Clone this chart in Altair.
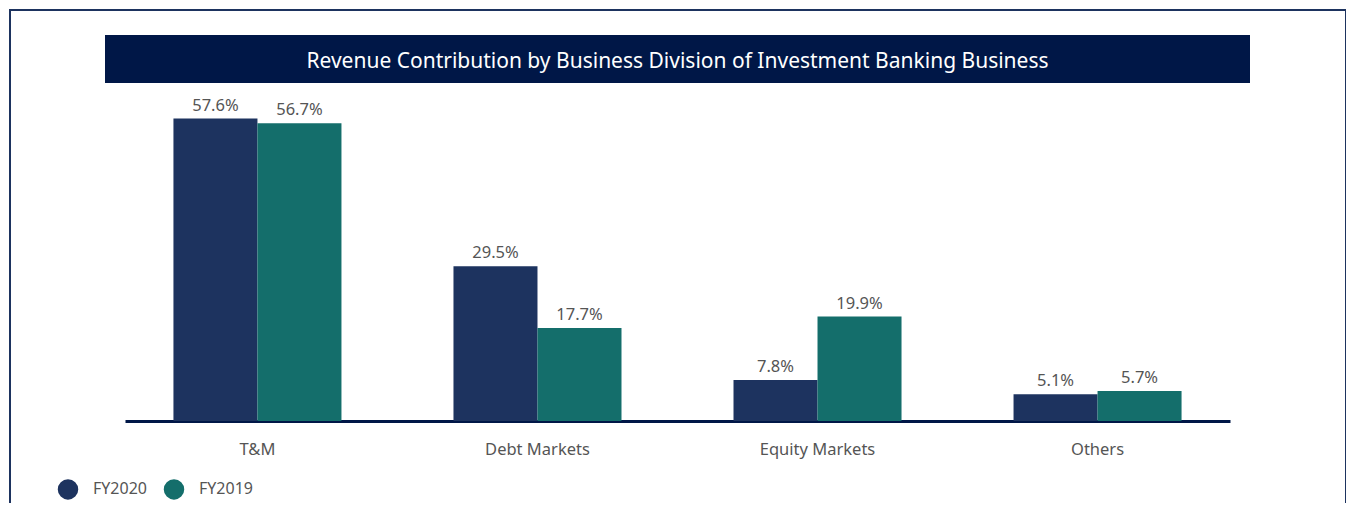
import altair as alt
import pandas as pd

title_text = "Revenue Contribution by Business Division of Investment Banking Business"
categories = ["T&M", "Debt Markets", "Equity Markets", "Others"]
series = ["FY2020", "FY2019"]
fy2020 = [57.6, 29.5, 7.8, 5.1]
fy2019 = [56.7, 17.7, 19.9, 5.7]
colors = ["#1d335f", "#146e6b"]

rows = []
for c, a, b in zip(categories, fy2020, fy2019):
    rows.append({"cat": c, "series": series[0], "val": a})
    rows.append({"cat": c, "series": series[1], "val": b})
df = pd.DataFrame(rows)

FONT = "Noto Sans"
W, H = 1105, 315

x = alt.X("cat:N", sort=categories, scale=alt.Scale(paddingInner=0.4, paddingOuter=0.173),
          axis=alt.Axis(title=None, labelAngle=0, labelFontSize=16.5, labelColor="#555555",
                        labelFont=FONT, ticks=False, domainColor="#001747", domainWidth=3,
                        labelPadding=20))
xo = alt.XOffset("series:N", sort=series, scale=alt.Scale(domain=series))
y = alt.Y("val:Q", scale=alt.Scale(domain=[0, 60]), axis=None)

base = alt.Chart(df)
bars = base.mark_bar().encode(
    x=x, xOffset=xo, y=y,
    color=alt.Color("series:N", sort=series,
                    scale=alt.Scale(domain=series, range=colors),
                    legend=alt.Legend(title=None, orient="none", legendX=-68, legendY=372,
                                      direction="horizontal", symbolType="circle",
                                      symbolSize=420, labelFontSize=16, labelFont=FONT,
                                      labelColor="#555555", labelOffset=14,
                                      columnPadding=16, symbolOpacity=1)),
)
labels = base.transform_calculate(
    lab="format(datum.val, '.1f') + '%'"
).mark_text(dy=-8, baseline="alphabetic", fontSize=16.5, font=FONT,
            color="#555555").encode(x=x, xOffset=xo, y=y, text="lab:N")

one = alt.Data(values=[{"a": 1}])
frame = alt.Chart(one).mark_rect(fillOpacity=0, stroke="#1d335f", strokeWidth=2,
                                 strokeOpacity=1).encode(
    x=alt.value(-115), x2=alt.value(1221), y=alt.value(-96), y2=alt.value(440))
banner = alt.Chart(one).mark_rect(color="#001747").encode(
    x=alt.value(-20), x2=alt.value(1125), y=alt.value(-71), y2=alt.value(-23))
btext = alt.Chart(one).mark_text(color="white", fontSize=21, font=FONT,
                                 align="center", baseline="middle").encode(
    x=alt.value(552.5), y=alt.value(-44), text=alt.value(title_text))

chart = alt.layer(frame, banner, btext, bars, labels).properties(
    width=W, height=H,
    autosize=alt.AutoSizeParams(type="none"),
    padding={"left": 117, "top": 98, "right": 116, "bottom": 82},
).configure_view(stroke=None)

chart.save("out.html", embed_options={"renderer": "svg", "actions": False})
